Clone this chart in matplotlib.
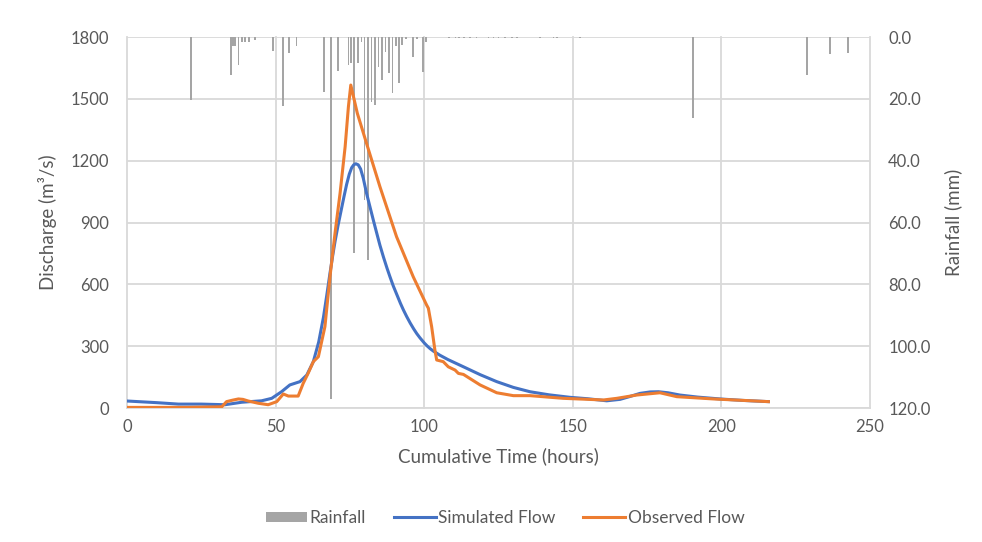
import matplotlib
matplotlib.use("Agg")
import matplotlib.pyplot as plt
from matplotlib.patches import Patch
from matplotlib.lines import Line2D

plt.rcParams['font.family'] = ['Lato', 'DejaVu Sans']

# Rainfall events: time (hours) and depth (mm)
rain_time = [21.5, 35.0, 35.7, 36.3, 37.5, 38.6, 39.7, 41.0, 43.0, 49.0, 52.4, 54.6, 57.0,
             66.4, 68.6, 70.9, 74.5, 75.3, 76.5, 77.8, 78.9, 79.9, 81.2, 82.3, 83.4, 84.6,
             85.7, 87.0, 88.1, 89.3, 90.4, 91.5, 92.6, 93.8, 96.3, 97.5, 99.7, 100.6,
             108.3, 110.5, 111.6, 113.3, 115.4, 117.6, 121.6, 123.3, 125.0, 127.2, 129.5,
             131.2, 139.0, 143.5, 144.6, 152.4, 190.5, 228.7, 236.5, 242.5]
rain_mm = [20.4, 12.3, 3.0, 3.0, 9.0, 1.5, 1.5, 1.5, 1.0, 4.5, 22.3, 5.2, 3.0,
           17.7, 117.0, 10.9, 9.0, 8.5, 70.0, 8.5, 1.5, 52.7, 72.0, 21.0, 22.0, 9.6,
           14.0, 4.8, 11.7, 18.0, 3.0, 15.0, 2.6, 0.5, 6.4, 0.5, 11.2, 1.5,
           0.4, 0.4, 0.4, 0.4, 0.4, 0.4, 0.4, 0.4, 0.4, 0.4, 0.4,
           0.4, 0.4, 0.4, 0.4, 0.4, 26.3, 12.3, 5.5, 5.3]

# Simulated discharge (m3/s)
sim_time = [0, 10, 17.3, 25, 33, 38.6, 45.3, 48.7, 52, 54.8, 58.2, 60.5, 62.7, 64.5, 66.1,
            67.2, 68.3, 69.2, 70, 71, 72, 73, 73.9, 74.8, 75.6, 76.3, 77, 77.8, 78.6,
            79.5, 80.6, 82, 83, 84, 85.1, 86.3, 87.5, 88.5, 89.6, 91, 92, 93, 94.1, 95.3,
            96.5, 97.5, 98.6, 100, 101, 102, 103.1, 105.3, 108, 113.2, 118.8, 124.4, 130,
            135.6, 142, 149, 155, 161.4, 165.9, 169, 172.6, 176, 178.8, 182, 186, 192,
            199.5, 207, 215.8]
sim_flow = [34, 26, 19, 19, 16, 28, 35, 47, 79, 112, 128, 160, 225, 320, 440,
            545, 654, 738, 808, 885, 955, 1025, 1085, 1135, 1166, 1180, 1185, 1180, 1160,
            1115, 1042, 962, 905, 850, 790, 732, 678, 636, 592, 543, 508, 476, 444, 412,
            383, 361, 340, 316, 301, 288, 276, 256, 235, 200, 162, 128, 100,
            79, 64, 52, 45, 35, 42, 55, 71, 78, 79, 74, 63, 53,
            44, 37, 31]

# Observed discharge (m3/s)
obs_time = [0, 10, 20, 31.9, 33.5, 35.5, 37.5, 39, 40.8, 44.2, 47.5, 50.4, 52.6, 54.3,
            57.6, 59.3, 61, 62.7, 64.4, 66.6, 68.3, 70, 71.7, 73.4, 74.5, 75.3, 77.5,
            80.6, 85.1, 90.7, 96.3, 100.8, 101.4, 102.5, 103.6, 104.2, 106.4, 108.1,
            110.4, 111.5, 113.2, 118.8, 124.4, 130, 135.6, 146.8, 160.3, 164.8, 171.5,
            179.3, 185, 197.3, 215.8]
obs_flow = [3, 3, 3, 6, 31, 38, 44, 42, 34, 23, 16, 31, 68, 58,
            58, 120, 170, 225, 249, 395, 637, 849, 1043, 1268, 1462, 1567, 1430,
            1284, 1074, 831, 637, 500, 484, 395, 281, 233, 225, 200,
            184, 168, 163, 112, 74, 60, 60, 47, 39, 47, 63,
            74, 55, 44, 31]

x_ticks = [0, 50, 100, 150, 200, 250]
q_ticks = [0, 300, 600, 900, 1200, 1500, 1800]
r_ticks = [0, 20, 40, 60, 80, 100, 120]

BLUE = '#4472c4'
ORANGE = '#ed7d31'
GRAY = '#a5a5a5'
GRID = '#d9d9d9'
TXT = '#595959'

fig = plt.figure(figsize=(9.82, 5.42), dpi=100)
ax = fig.add_axes([0.1293, 0.2472, 0.886 - 0.1293, 0.9317 - 0.2472])
ax2 = ax.twinx()

# gridlines and rainfall bars live on the rear (secondary) axis
ax2.set_xlim(0, 250)
for xv in x_ticks:
    ax2.axvline(xv, color=GRID, linewidth=1.3, zorder=0, clip_on=False)
ax2.bar(rain_time, rain_mm, width=0.6, color=GRAY, align='center', zorder=2)
ax2.set_ylim(120, 0)
ax2.set_yticks(r_ticks)
ax2.set_yticklabels([f"{v:.1f}" for v in r_ticks])
ax2.grid(True, axis='y', color=GRID, linewidth=1.3, zorder=0)
ax2.set_axisbelow(True)
ax2.set_zorder(1)
ax.set_zorder(2)
ax.patch.set_visible(False)
ax2.patch.set_facecolor('white')

ax.plot(sim_time, sim_flow, color=BLUE, linewidth=2.2, solid_joinstyle='round')
ax.plot(obs_time, obs_flow, color=ORANGE, linewidth=2.2, solid_joinstyle='round')

ax.set_xlim(0, 250)
ax.set_ylim(0, 1800)
ax.set_xticks(x_ticks)
ax.set_yticks(q_ticks)
ax.grid(False)

for a in (ax, ax2):
    for s in a.spines.values():
        s.set_visible(False)
    a.tick_params(length=0, labelsize=12, labelcolor=TXT)
ax2.spines['bottom'].set_visible(True)
ax2.spines['bottom'].set_color(GRID)
ax2.spines['bottom'].set_linewidth(1.3)
ax.tick_params(axis='y', pad=13)
ax.tick_params(axis='x', pad=8)
ax2.tick_params(axis='y', pad=13)

ax.set_xlabel('Cumulative Time (hours)', fontsize=13.5, color=TXT, labelpad=9)
ax.set_ylabel('Discharge (m³/s)', fontsize=13.5, color=TXT, labelpad=10)
ax2.set_ylabel('Rainfall (mm)', fontsize=13.5, color=TXT, labelpad=10)

handles = [Patch(facecolor=GRAY, edgecolor='none'),
           Line2D([0], [0], color=BLUE, linewidth=2.2),
           Line2D([0], [0], color=ORANGE, linewidth=2.2)]
fig.legend(handles, ['Rainfall', 'Simulated Flow', 'Observed Flow'],
           loc='center', bbox_to_anchor=(505 / 982, 1 - 518 / 542), ncol=3,
           frameon=False, fontsize=12.5, labelcolor=TXT, handlelength=2.4,
           handleheight=0.5, handletextpad=0.15, columnspacing=1.6)

fig.savefig('out.png', dpi=100)
